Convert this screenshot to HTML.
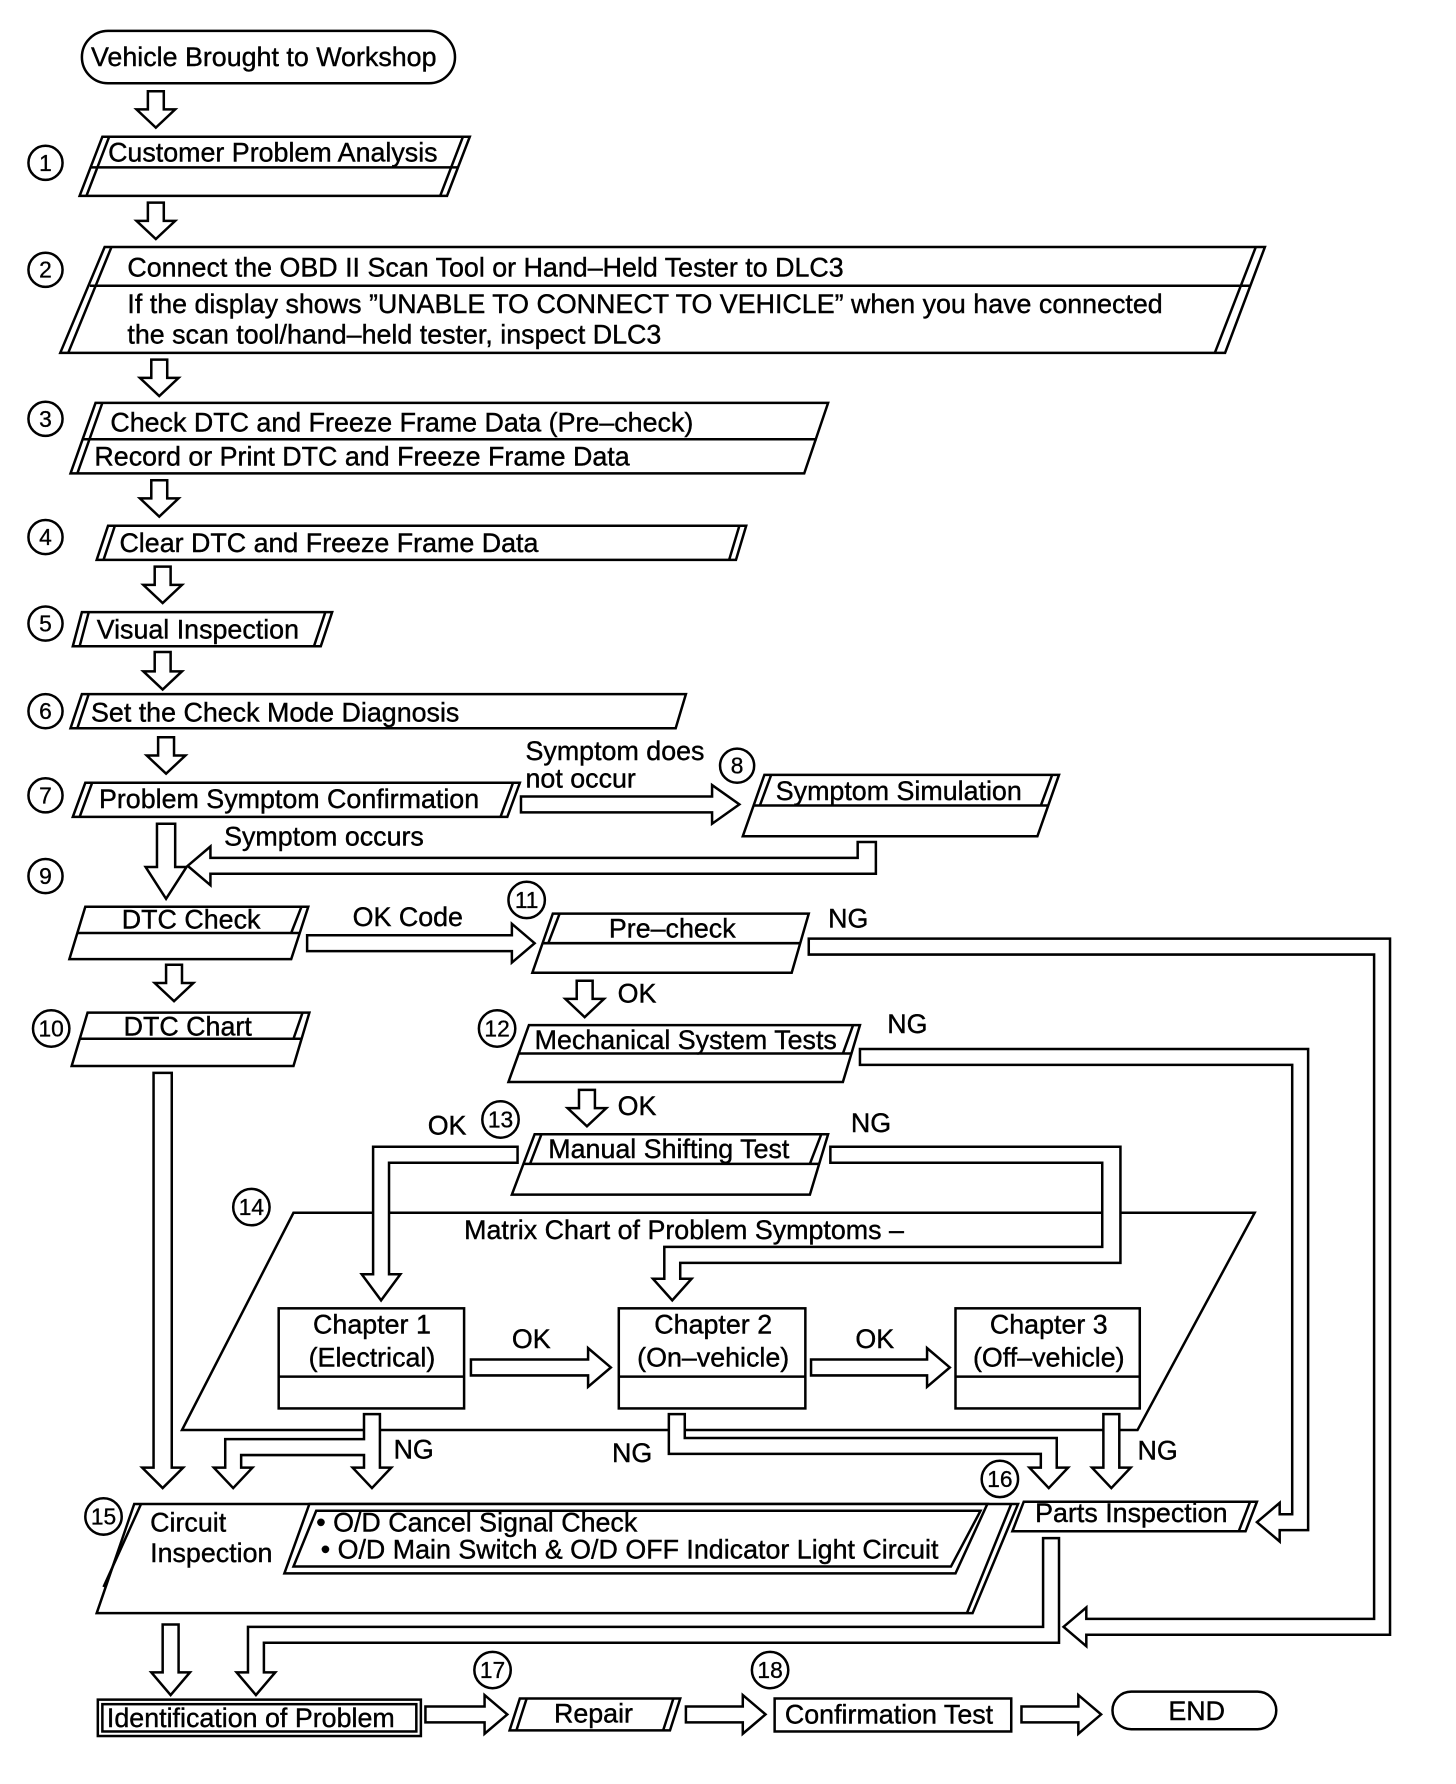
<!DOCTYPE html>
<html><head><meta charset="utf-8"><style>
html,body{margin:0;padding:0;background:#fff;}
svg{display:block;}
text{font-family:"Liberation Sans",Arial,sans-serif;font-size:23.6px;fill:#000;stroke:#000;stroke-width:0.35px;}
.n{font-size:20px;text-anchor:middle;stroke-width:0.3px;}
</style></head><body>
<svg width="1456" height="1784" viewBox="0 0 1280 1568" xmlns="http://www.w3.org/2000/svg">
<g fill="#fff" stroke="#000" stroke-width="2.2" stroke-linejoin="miter">
<polygon points="258,1066 1103,1066 1000,1257 160,1257"/>
<rect x="72" y="27" width="328" height="46" rx="23"/>
<path d="M130 80 L144 80 L144 96 L154 96 L137 112 L120 96 L130 96 Z"/>
<path d="M130 178 L144 178 L144 194 L154 194 L137 210 L120 194 L130 194 Z"/>
<path d="M133 316 L147 316 L147 332 L157 332 L140 348 L123 332 L133 332 Z"/>
<path d="M133 422 L147 422 L147 438 L157 438 L140 454 L123 438 L133 438 Z"/>
<path d="M136 498 L150 498 L150 514 L160 514 L143 530 L126 514 L136 514 Z"/>
<path d="M136 573 L150 573 L150 590 L160 590 L143 606 L126 590 L136 590 Z"/>
<path d="M139 648 L153 648 L153 664 L163 664 L146 680 L129 664 L139 664 Z"/>
<path d="M138 724 L154 724 L154 762 L164 762 L146 790 L128 762 L138 762 Z"/>
<path d="M146 848 L160 848 L160 864 L170 864 L153 880 L136 864 L146 864 Z"/>
<path d="M135 943 L151 943 L151 1290 L161 1290 L143 1308 L125 1290 L135 1290 Z"/>
<path d="M507 862 L521 862 L521 878 L531 878 L514 894 L497 878 L507 878 Z"/>
<path d="M509 958 L523 958 L523 974 L533 974 L516 990 L499 974 L509 974 Z"/>
<path d="M143 1428 L157 1428 L157 1470 L167 1470 L150 1490 L133 1470 L143 1470 Z"/>
<path d="M458 700 L626 700 L626 690 L650 707 L626 724 L626 714 L458 714 Z"/>
<path d="M270 822 L450 822 L450 812 L470 829 L450 846 L450 836 L270 836 Z"/>
<path d="M414 1195 L517 1195 L517 1185 L537 1202 L517 1219 L517 1209 L414 1209 Z"/>
<path d="M713 1195 L815 1195 L815 1185 L835 1202 L815 1219 L815 1209 L713 1209 Z"/>
<path d="M374 1500 L426 1500 L426 1490 L446 1507 L426 1524 L426 1514 L374 1514 Z"/>
<path d="M603 1500 L653 1500 L653 1490 L673 1507 L653 1524 L653 1514 L603 1514 Z"/>
<path d="M898 1500 L948 1500 L948 1490 L968 1507 L948 1524 L948 1514 L898 1514 Z"/>
<path d="M754 740 L770 740 L770 768 L185 768 L185 778 L165 761 L185 744 L185 754 L754 754 Z"/>
<path d="M711 825 L1222 825 L1222 1437 L955 1437 L955 1447 L935 1430 L955 1413 L955 1423 L1208 1423 L1208 839 L711 839 Z"/>
<path d="M756 922 L1150 922 L1150 1345 L1125 1345 L1125 1355 L1105 1338 L1125 1321 L1125 1331 L1136 1331 L1136 936 L756 936 Z"/>
<path d="M455 1008 L328 1008 L328 1120 L318 1120 L335 1143 L352 1120 L342 1120 L342 1022 L455 1022 Z"/>
<path d="M730 1008 L985 1008 L985 1110 L598 1110 L598 1124 L608 1124 L591 1143 L574 1124 L584 1124 L584 1096 L969 1096 L969 1022 L730 1022 Z"/>
<rect x="245" y="1150" width="163" height="88"/><line x1="245" y1="1210" x2="408" y2="1210"/>
<rect x="544" y="1150" width="164" height="88"/><line x1="544" y1="1210" x2="708" y2="1210"/>
<rect x="840" y="1150" width="162" height="88"/><line x1="840" y1="1210" x2="1002" y2="1210"/>
<path d="M320 1243 L334 1243 L334 1290 L344 1290 L327 1308 L310 1290 L320 1290 L320 1279 L212 1279 L212 1290 L222 1290 L205 1308 L188 1290 L198 1290 L198 1265 L320 1265 Z"/>
<path d="M588 1243 L602 1243 L602 1264 L929 1264 L929 1290 L939 1290 L922 1308 L905 1290 L915 1290 L915 1278 L588 1278 Z"/>
<path d="M970 1243 L984 1243 L984 1290 L994 1290 L977 1308 L960 1290 L970 1290 Z"/>
<path d="M917 1352 L931 1352 L931 1444 L232 1444 L232 1470 L242 1470 L225 1490 L208 1470 L218 1470 L218 1430 L917 1430 Z"/>
<polygon points="90,120 413,120 393,172 70,172"/><line x1="80" y1="147" x2="403" y2="147"/><line x1="96" y1="120" x2="76" y2="172"/><line x1="407" y1="120" x2="387" y2="172"/>
<polygon points="92,217 1112,217 1077,310 53,310"/><line x1="79" y1="251" x2="1099" y2="251"/><line x1="98" y1="217" x2="60" y2="310"/><line x1="1104" y1="217" x2="1068" y2="310"/>
<polygon points="84,354 728,354 707,416 62,416"/><line x1="72" y1="386" x2="718" y2="386"/><line x1="90" y1="354" x2="68" y2="416"/>
<polygon points="95,462 656,462 647,492 85,492"/><line x1="101" y1="462" x2="91" y2="492"/><line x1="650" y1="462" x2="641" y2="492"/>
<polygon points="72,538 292,538 282,568 64,568"/><line x1="78" y1="538" x2="70" y2="568"/><line x1="286" y1="538" x2="276" y2="568"/>
<polygon points="72,610 603,610 594,640 62,640"/><line x1="78" y1="610" x2="68" y2="640"/>
<polygon points="75,688 457,688 446,718 64,718"/><line x1="81" y1="688" x2="70" y2="718"/><line x1="451" y1="688" x2="440" y2="718"/>
<polygon points="672,681 931,681 912,735 653,735"/><line x1="663" y1="708" x2="922" y2="708"/><line x1="678" y1="681" x2="668" y2="708"/><line x1="925" y1="681" x2="915" y2="708"/>
<polygon points="75,797 271,797 256,843 61,843"/><line x1="68" y1="820" x2="264" y2="820"/><line x1="265" y1="797" x2="256" y2="820"/>
<polygon points="486,803 711,803 696,855 468,855"/><line x1="477" y1="829" x2="704" y2="829"/><line x1="492" y1="803" x2="482" y2="829"/>
<polygon points="77,890 272,890 258,937 63,937"/><line x1="70" y1="913" x2="265" y2="913"/><line x1="266" y1="890" x2="258" y2="913"/>
<polygon points="465,901 756,901 741,951 447,951"/><line x1="456" y1="926" x2="748" y2="926"/><line x1="750" y1="901" x2="741" y2="926"/>
<polygon points="470,997 728,997 712,1050 450,1050"/><line x1="460" y1="1023" x2="720" y2="1023"/><line x1="476" y1="997" x2="466" y2="1023"/><line x1="722" y1="997" x2="712" y2="1023"/>
<polygon points="900,1320 1105,1320 1095,1346 890,1346"/><line x1="1099" y1="1320" x2="1089" y2="1346"/>
<polygon points="118,1322 895,1322 855,1418 85,1418"/><line x1="124" y1="1322" x2="91" y2="1395"/><line x1="889" y1="1322" x2="850" y2="1418"/>
<polygon points="272,1322 868,1322 840,1383 250,1383"/><polygon points="278,1328 862,1328 836,1377 258,1377"/>
<rect x="86" y="1494" width="284" height="32"/><rect x="90" y="1498" width="276" height="24"/>
<polygon points="457,1493 598,1493 589,1521 448,1521"/><line x1="463" y1="1493" x2="454" y2="1521"/><line x1="592" y1="1493" x2="583" y2="1521"/>
<rect x="681" y="1493" width="208" height="29"/>
<rect x="978" y="1487" width="144" height="33" rx="16.5"/>
<circle cx="40" cy="143" r="15"/><circle cx="40" cy="237" r="15"/><circle cx="40" cy="368" r="15"/>
<circle cx="40" cy="472" r="15"/><circle cx="40" cy="548" r="15"/><circle cx="40" cy="625" r="15"/>
<circle cx="40" cy="699" r="15"/><circle cx="648" cy="673" r="15"/><circle cx="40" cy="770" r="15"/>
<circle cx="45" cy="904" r="16"/><circle cx="463" cy="791" r="16"/><circle cx="437" cy="904" r="16"/>
<circle cx="440" cy="984" r="16"/><circle cx="221" cy="1061" r="16"/><circle cx="91" cy="1333" r="16"/>
<circle cx="879" cy="1300" r="16"/><circle cx="433" cy="1468" r="16"/><circle cx="677" cy="1468" r="16"/>
</g>
<text class="n" x="40" y="150">1</text><text class="n" x="40" y="244">2</text><text class="n" x="40" y="375">3</text>
<text class="n" x="40" y="479">4</text><text class="n" x="40" y="555">5</text><text class="n" x="40" y="632">6</text>
<text class="n" x="40" y="706">7</text><text class="n" x="648" y="680">8</text><text class="n" x="40" y="777">9</text>
<text class="n" x="45" y="911">10</text><text class="n" x="463" y="798">11</text><text class="n" x="437" y="911">12</text>
<text class="n" x="440" y="991">13</text><text class="n" x="221" y="1068">14</text><text class="n" x="91" y="1340">15</text>
<text class="n" x="879" y="1307">16</text><text class="n" x="433" y="1475">17</text><text class="n" x="677" y="1475">18</text>
<text x="80" y="58">Vehicle Brought to Workshop</text>
<text x="95" y="142">Customer Problem Analysis</text>
<text x="112" y="243">Connect the OBD II Scan Tool or Hand–Held Tester to DLC3</text>
<text x="112" y="275">If the display shows ”UNABLE TO CONNECT TO VEHICLE” when you have connected</text>
<text x="112" y="302">the scan tool/hand–held tester, inspect DLC3</text>
<text x="97" y="379">Check DTC and Freeze Frame Data (Pre–check)</text>
<text x="83" y="409">Record or Print DTC and Freeze Frame Data</text>
<text x="105" y="485">Clear DTC and Freeze Frame Data</text>
<text x="85" y="561">Visual Inspection</text>
<text x="80" y="634">Set the Check Mode Diagnosis</text>
<text x="87" y="710">Problem Symptom Confirmation</text>
<text x="462" y="668">Symptom does</text><text x="462" y="692">not occur</text>
<text x="682" y="703">Symptom Simulation</text>
<text x="197" y="743">Symptom occurs</text>
<text x="168" y="816" text-anchor="middle">DTC Check</text>
<text x="310" y="814">OK Code</text>
<text x="591" y="824" text-anchor="middle">Pre–check</text>
<text x="728" y="815">NG</text>
<text x="165" y="910" text-anchor="middle">DTC Chart</text>
<text x="543" y="881">OK</text>
<text x="470" y="922">Mechanical System Tests</text>
<text x="780" y="908">NG</text>
<text x="543" y="980">OK</text>
<text x="376" y="997">OK</text>
<text x="482" y="1018">Manual Shifting Test</text>
<text x="748" y="995">NG</text>
<text x="408" y="1089">Matrix Chart of Problem Symptoms –</text>
<text x="327" y="1172" text-anchor="middle">Chapter 1</text><text x="327" y="1201" text-anchor="middle">(Electrical)</text>
<text x="627" y="1172" text-anchor="middle">Chapter 2</text><text x="627" y="1201" text-anchor="middle">(On–vehicle)</text>
<text x="922" y="1172" text-anchor="middle">Chapter 3</text><text x="922" y="1201" text-anchor="middle">(Off–vehicle)</text>
<text x="450" y="1185">OK</text><text x="752" y="1185">OK</text>
<text x="346" y="1282">NG</text><text x="538" y="1285">NG</text><text x="1000" y="1283">NG</text>
<text x="910" y="1338">Parts Inspection</text>
<text x="132" y="1346">Circuit</text><text x="132" y="1373">Inspection</text>
<text x="278" y="1346">• O/D Cancel Signal Check</text>
<text x="282" y="1370">• O/D Main Switch &amp; O/D OFF Indicator Light Circuit</text>
<text x="94" y="1518">Identification of Problem</text>
<text x="487" y="1514">Repair</text>
<text x="690" y="1515">Confirmation Test</text>
<text x="1052" y="1512" text-anchor="middle">END</text>
</svg>
</body></html>
